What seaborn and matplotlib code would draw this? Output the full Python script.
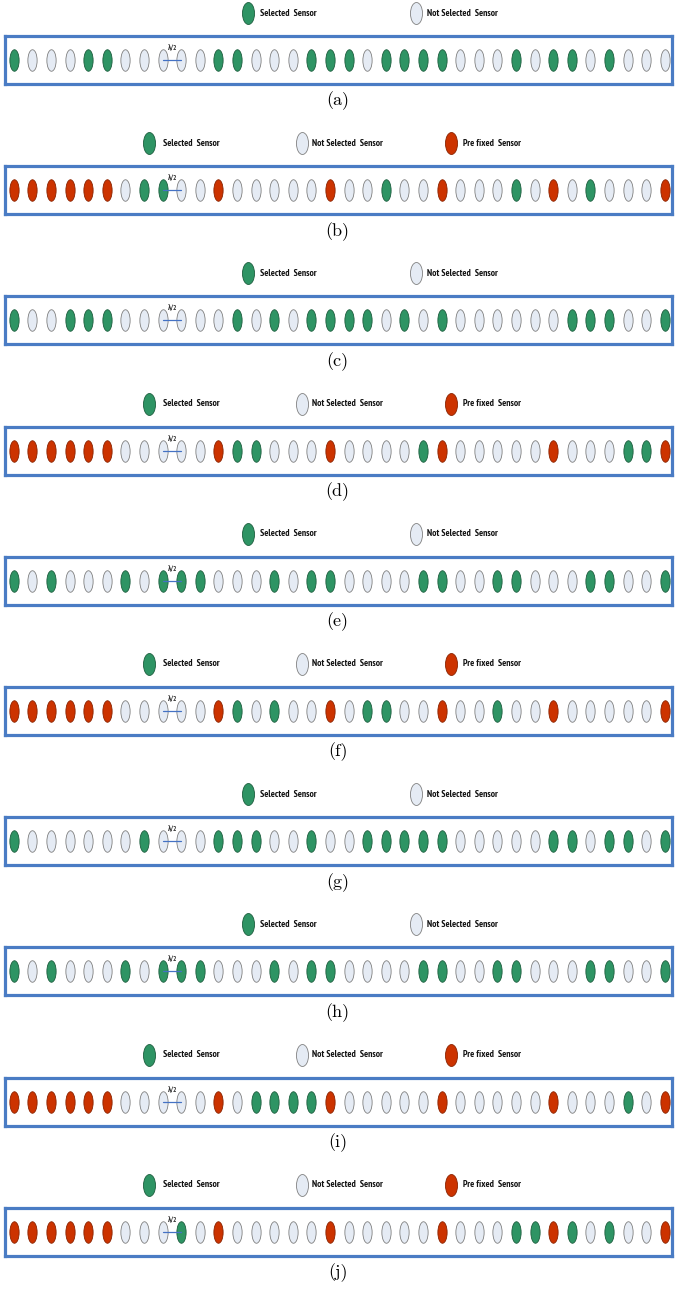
import numpy as np
import pandas as pd
import seaborn as sns
import matplotlib.pyplot as plt
from matplotlib.path import Path
from matplotlib.transforms import Affine2D

sns.set_theme(style="white")
NARROW = ["PT Sans Narrow", "Roboto Condensed", "DejaVu Sans"]
plt.rcParams["font.family"] = NARROW

# Sensor states along the 36-element array: S = selected, N = not selected, P = pre fixed
config_a = "SNNNSSNNNNNSSNNNSSSNSSSSNNNSNSSNSNNN"
config_b = "PPPPPPNSSNNPNNNNNPNNSNNPNNNSNPNSNNNP"
config_c = "SNNSSSNNNNNNSNSNSSSSNSNSNNNNNNSSSNNS"
config_d = "PPPPPPNNNNNPSSNNNPNNNNSPNNNNNPNNNSSP"
config_e = "SNSNNNSNSSSNNNSNSSNNNNSSNNSSNNNSSNNS"
config_f = "PPPPPPNNNNNPSNSNNPNSSNNPNNSNNPNNNNNP"
config_g = "SNNNNNNSNNNSSSNNSNNSSSSSNNNNNSSNSSNS"
config_h = "SNSNNNSNSSSNNNSNSSNNNNSSNNSSNNNSSNNS"
config_i = "PPPPPPNNNNNPNSSSSPNNNNNPNNNNNPNNNSNP"
config_j = "PPPPPPNNNSNPNNNNNPNNNNNPNNNSSPSNSNNP"

panel_labels = ["(a)", "(b)", "(c)", "(d)", "(e)", "(f)", "(g)", "(h)", "(i)", "(j)"]
panel_configs = [config_a, config_b, config_c, config_d, config_e,
                 config_f, config_g, config_h, config_i, config_j]

state_names = {"S": "Selected  Sensor", "N": "Not Selected  Sensor", "P": "Pre fixed  Sensor"}
state_fill = {"S": "#2e9464", "N": "#e5ebf4", "P": "#cc3300"}
state_edge = {"S": "#1d5e3e", "N": "#808080", "P": "#8a2300"}

records = []
for label, cfg in zip(panel_labels, panel_configs):
    for pos, st in enumerate(cfg, start=1):
        records.append({"panel": label, "position": pos, "row": 0.0, "state": st})
sensors = pd.DataFrame(records)

W, H = 675, 1304
fig = plt.figure(figsize=(W / 100, H / 100), dpi=100)

# Overlay in pixel coordinates for legends and captions
bg = fig.add_axes([0, 0, 1, 1])
bg.set_xlim(0, W)
bg.set_ylim(H, 0)
bg.axis("off")

sensor_marker = Affine2D().scale(0.43, 1.0).transform_path(Path.unit_circle())
legend_marker = Affine2D().scale(0.55, 1.0).transform_path(Path.unit_circle())

box_left, box_right = 5, 672
first_px, pitch = 13.8, 18.6
box_h = 48
blue = "#4a7cc4"

for k, label in enumerate(panel_labels):
    top = 36 + 130.2 * k
    ax = fig.add_axes([box_left / W, 1 - (top + box_h) / H,
                       (box_right - box_left) / W, box_h / H])
    ax.set_zorder(2)
    data = sensors[sensors["panel"] == label]
    for st in ["N", "S", "P"]:
        sub = data[data["state"] == st]
        if len(sub) == 0:
            continue
        sns.scatterplot(data=sub, x="position", y="row", ax=ax,
                        color=state_fill[st], edgecolor=state_edge[st],
                        linewidth=0.6, marker=sensor_marker, s=240,
                        legend=False, zorder=3)
    ax.set_xlim(1 + (box_left - first_px) / pitch, 1 + (box_right - first_px) / pitch)
    ax.set_ylim(-1, 1)
    ax.set_xticks([])
    ax.set_yticks([])
    ax.set_xlabel("")
    ax.set_ylabel("")
    ax.set_facecolor("white")
    for sp in ax.spines.values():
        sp.set_visible(True)
        sp.set_color(blue)
        sp.set_linewidth(2.3)

    # half-wavelength spacing marker between elements 9 and 10
    ax.plot([9, 10], [0, 0], color="#4472c4", lw=0.9, zorder=5)
    ax.text(9.55, 0.44, "λ/2", fontsize=5.2, ha="center", va="center",
            color="#333333", zorder=6, fontweight="bold", family=NARROW)

    # legend row
    present = [s for s in ["S", "N", "P"] if s in set(data["state"])]
    leg_y = top - 23
    if len(present) == 2:
        spots = [(248, 260), (416, 427)]
    else:
        spots = [(148.5, 163), (301.5, 312), (450.5, 463)]
    for st, (mx, tx) in zip(present, spots):
        bg.scatter([mx], [leg_y], marker=legend_marker, s=250,
                   color=state_fill[st], edgecolor=state_edge[st], linewidth=0.6)
        bg.text(tx, leg_y, state_names[st], fontsize=6.9, fontweight="bold",
                ha="left", va="center", color="#111111", family=NARROW)

    # caption
    bg.text(W / 2, top + box_h + 17, label, fontsize=13, family="cmr10",
            ha="center", va="center", color="black")

fig.savefig("out.png", dpi=100)
